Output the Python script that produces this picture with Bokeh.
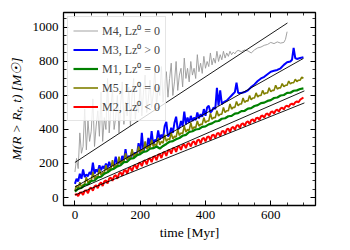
from bokeh.plotting import figure
from bokeh.models import (LinearAxis, SingleIntervalTicker, Range1d, Legend, LegendItem,
                          CustomLabelingPolicy)
from bokeh.embed import file_html
from bokeh.resources import INLINE

# ---------------- data ----------------
# M4 (gray): 5-Myr samples from 0 to 500, then tail samples
m4_head = [150, 230, 170, 380, 260, 300, 520, 280, 450, 330,
           390, 580, 300, 420, 510, 360, 620, 330, 470, 400,
           700, 380, 520, 640, 400, 470, 600, 380, 540, 680,
           430, 560, 480, 650, 420, 600, 700, 460, 560, 500,
           680, 480, 620, 720, 500, 580, 690, 530, 610, 760,
           540, 650, 600, 770, 560, 680, 740, 590, 700, 790,
           600,
           680, 800, 630, 720, 760, 650, 820, 700, 760, 680,
           800, 720, 760, 700, 840, 740, 790, 730, 830, 760,
           800, 770, 850, 780, 820, 790, 860, 800, 840, 810,
           860, 820, 850, 830, 860, 840, 855, 845, 860, 865]
m4_tail_t = [510, 520, 530, 540, 550, 560, 570, 580, 590, 600, 610, 620, 630, 640, 645, 650]
m4_tail = [858, 868, 862, 850, 868, 880, 885, 895, 900, 912, 905, 915, 908, 912, 930, 975]

# M3 (blue)
m3_head = [80, 110, 95, 140, 110, 165, 120, 135, 125, 150,
           135, 205, 140, 165, 150, 190, 160, 185, 170, 200,
           175, 210, 180, 200, 190, 240, 195, 215, 200, 245,
           210, 285, 220, 245, 230, 270, 240, 265, 250, 320,
           260, 380, 270, 310, 290, 350, 300, 390, 310, 340,
           330, 395, 340, 370, 350, 420, 445, 360, 370, 410,
           380, 440, 475, 400, 410, 450, 420, 505, 430, 470,
           440, 480, 450, 470, 455, 500, 465, 490, 475, 520,
           480, 530, 540, 500, 510, 530, 520, 645, 540, 630,
           550, 560, 565, 570, 580, 590, 600, 610, 620, 675,
           615]
m3_tail_t = [510, 520, 530, 540, 550, 560, 570, 580, 590, 600, 610, 620, 630, 640, 650,
             660, 665, 670, 675, 680, 690, 700]
m3_tail = [615, 620, 630, 650, 665, 685, 700, 710, 725, 740, 745, 750, 760, 780, 795,
           800, 810, 880, 820, 815, 820, 825]

# M1 (green): 10-Myr samples
m1 = [35, 52, 56, 75, 78, 97, 100, 118, 122, 140,
      148, 163, 170, 183, 190, 208, 210, 228, 232, 248,
      255, 268, 272, 288, 290, 300, 288, 303, 315, 328,
      332, 343, 350, 363, 368, 385, 390, 400, 403, 415,
      418, 430, 436, 448, 450, 463, 466, 478, 480, 493,
      496, 508, 510, 523, 526, 538, 543, 555, 558, 568,
      573, 585, 588, 600, 603, 615, 616, 628, 630, 638,
      642]

# M5 (olive): 5-Myr samples
m5 = [40, 70, 50, 90, 60, 75, 80, 120, 85, 100, 100, 150, 110, 125, 120, 170, 130, 145,
      145, 190, 155, 170, 165, 220, 175, 190, 185, 240, 200, 215, 210, 260, 220, 240, 230,
      285, 240, 255, 255, 300, 265, 280, 275, 330, 285, 300, 295, 340, 300, 315, 305, 350,
      310, 330, 320, 370, 330, 345, 340, 380, 345, 360, 355, 400, 365, 380, 375, 420, 385,
      400, 395, 440, 400, 415, 410, 450, 420, 430, 430, 470, 440, 450, 450, 495, 460, 470,
      470, 510, 480, 490, 490, 530, 500, 510, 510, 550, 520, 530, 530, 565, 540, 550, 550,
      585, 560, 568, 568, 600, 575, 585, 585, 615, 592, 600, 600, 630, 608, 615, 615, 645,
      622, 630, 630, 660, 638, 645, 645, 670, 652, 660, 660, 685, 668, 675, 675, 695, 682,
      690, 690, 708, 700]

# M2 (red): 5-Myr samples
m2 = [15, 20, 8, 28, 30, 15, 40, 42, 25, 52, 58, 40, 66, 72, 55, 80, 88, 68, 95, 100, 82,
      112, 116, 98, 125, 132, 110, 140, 148, 128, 155, 162, 140, 170, 175, 155, 184, 190,
      168, 198, 205, 185, 212, 218, 195, 225, 230, 208, 238, 242, 220, 250, 255, 232, 262,
      268, 245, 275, 280, 258, 288, 292, 268, 298, 302, 280, 308, 312, 290, 316, 320, 300,
      325, 330, 308, 336, 340, 318, 345, 350, 330, 355, 360, 338, 365, 370, 350, 375, 380,
      360, 388, 392, 372, 400, 405, 385, 410, 415, 398, 422, 426, 408, 432, 436, 420, 442,
      448, 432, 455, 460, 445, 466, 470, 456, 478, 482, 470, 490, 494, 480, 502, 506, 494,
      512, 516, 505, 524, 528, 518, 536, 540, 532, 548, 552, 545, 560, 565, 560, 575, 582,
      588]

# linear fits (black lines): intercept, slope, end time
fit_intercept = [206, 62, 40, 15]
fit_slope = [1.26, 1.08, 0.835, 0.77]
fit_tend = [651, 700, 703, 703]

x_ticks_interval = 200
y_ticks_interval = 200

# ---------------- figure ----------------
SERIF = "Liberation Serif"

p = figure(width=342, height=242, output_backend="svg", toolbar_location=None,
           x_range=Range1d(-35, 737), y_range=Range1d(-47, 1088),
           min_border_left=63, min_border_right=9, min_border_top=12, min_border_bottom=37)
p.xgrid.visible = False
p.ygrid.visible = False
p.outline_line_color = "black"
p.outline_line_width = 1.3
p.background_fill_color = "white"
p.border_fill_color = "white"

def t5(n):
    return [5 * i for i in range(n)]

def t10(n):
    return [10 * i for i in range(n)]

g4 = p.line(t5(len(m4_head)) + m4_tail_t, m4_head + m4_tail, color="#999999", line_width=0.9)
g3 = p.line(t5(len(m3_head)) + m3_tail_t, m3_head + m3_tail, color="#0000ff", line_width=2)
g5 = p.line(t5(len(m5)), m5, color="#808000", line_width=1.6)
g1 = p.line(t10(len(m1)), m1, color="#008000", line_width=2.2)
g2 = p.line(t5(len(m2)), m2, color="#ff0000", line_width=2)

for a, b, te in zip(fit_intercept, fit_slope, fit_tend):
    p.line([0, te], [a, a + b * te], color="black", line_width=0.9)

no_labels = CustomLabelingPolicy(code="""
const ids = [...indices.ones()]
for (const i of ids) indices.unset(i)
return indices
""")

# axes styling
def style_axis(ax, labels=True):
    ax.axis_line_color = None
    ax.major_tick_in = 5
    ax.major_tick_out = 0
    ax.minor_tick_in = 3
    ax.minor_tick_out = 0
    ax.major_tick_line_color = "black"
    ax.minor_tick_line_color = "black"
    ax.major_tick_line_width = 1
    ax.minor_tick_line_width = 0.8
    if labels:
        ax.major_label_text_font = SERIF
        ax.major_label_text_font_size = "13px"
        ax.major_label_text_color = "black"
        ax.major_label_standoff = 5
        ax.axis_label_text_font = SERIF
        ax.axis_label_text_font_size = "13.5px"
        ax.axis_label_text_font_style = "normal"
        ax.axis_label_text_color = "black"
    else:
        ax.major_label_policy = no_labels
        ax.major_label_standoff = 0

xt = SingleIntervalTicker(interval=x_ticks_interval, num_minor_ticks=4)
yt = SingleIntervalTicker(interval=y_ticks_interval, num_minor_ticks=4)

p.xaxis[0].ticker = xt
p.yaxis[0].ticker = yt
style_axis(p.xaxis[0])
style_axis(p.yaxis[0])
p.xaxis[0].axis_label = "time [Myr]"
p.xaxis[0].axis_label_standoff = 3
p.yaxis[0].axis_label = "M(R > Rₜ, t) [M☉]"
p.yaxis[0].axis_label_text_font_style = "italic"
p.yaxis[0].axis_label_standoff = 6

top = LinearAxis(ticker=SingleIntervalTicker(interval=x_ticks_interval, num_minor_ticks=4))
right = LinearAxis(ticker=SingleIntervalTicker(interval=y_ticks_interval, num_minor_ticks=4))
style_axis(top, labels=False)
style_axis(right, labels=False)
p.add_layout(top, "above")
p.add_layout(right, "right")

legend = Legend(items=[
    LegendItem(label="M4, Lz⁰ = 0", renderers=[g4]),
    LegendItem(label="M3, Lz⁰ > 0", renderers=[g3]),
    LegendItem(label="M1, Lz⁰ = 0", renderers=[g1]),
    LegendItem(label="M5, Lz⁰ = 0", renderers=[g5]),
    LegendItem(label="M2, Lz⁰ < 0", renderers=[g2]),
], location="top_left")
legend.margin = 4
legend.padding = 5
legend.spacing = 2
legend.glyph_height = 15
legend.label_height = 15
legend.glyph_width = 25
legend.label_standoff = 4
legend.label_text_font = SERIF
legend.label_text_font_size = "12px"
legend.label_text_font_style = "normal"
legend.border_line_color = "#cccccc"
legend.border_line_width = 1
legend.background_fill_alpha = 0.8
p.add_layout(legend)

open("out.html", "w").write(file_html(p, INLINE))
